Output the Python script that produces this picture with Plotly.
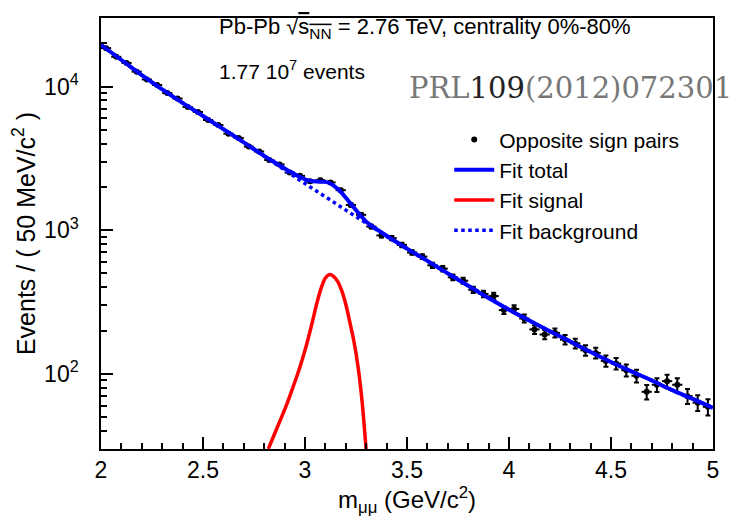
import numpy as np
import plotly.graph_objects as go

# ---------------- data ----------------
bin_centers = [2.025, 2.075, 2.125, 2.175, 2.225, 2.275, 2.325, 2.375, 2.425, 2.475,
               2.525, 2.575, 2.625, 2.675, 2.725, 2.775, 2.825, 2.875, 2.925, 2.975,
               3.025, 3.075, 3.125, 3.175, 3.225, 3.275, 3.325, 3.375, 3.425, 3.475,
               3.525, 3.575, 3.625, 3.675, 3.725, 3.775, 3.825, 3.875, 3.925, 3.975,
               4.025, 4.075, 4.125, 4.175, 4.225, 4.275, 4.325, 4.375, 4.425, 4.475,
               4.525, 4.575, 4.625, 4.675, 4.725, 4.775, 4.825, 4.875, 4.925, 4.975]
pair_counts = [18500, 16100, 14600, 12700, 11200, 10250, 9000, 8250, 7200, 6650,
               5850, 5400, 4700, 4380, 3820, 3530, 3080, 2870, 2520, 2390,
               2190, 2230, 2150, 1900, 1500, 1280, 1060, 920, 880, 790,
               700, 655, 570, 540, 470, 445, 385, 360, 348, 278,
               283, 243, 204, 188, 193, 173, 163, 146, 140, 123,
               118, 106, 97, 75, 84, 89, 84, 70, 63, 59]

bkg_x = [2.0, 2.1, 2.2, 2.3, 2.4, 2.5, 2.6, 2.7, 2.8, 2.9, 3.0, 3.1, 3.2, 3.3, 3.4, 3.5,
         3.6, 3.7, 3.8, 3.9, 4.0, 4.1, 4.2, 4.3, 4.4, 4.5, 4.6, 4.7, 4.8, 4.9, 5.0]
bkg_y = [19500, 15300, 12000, 9550, 7690, 6240, 5050, 4090, 3270, 2630, 2110, 1710,
         1380, 1120, 908, 740, 610, 500, 411, 337, 280, 235, 198, 168, 142, 121, 104,
         90, 77, 67, 58]

total_x = [2.0, 2.1, 2.2, 2.3, 2.4, 2.5, 2.6, 2.7, 2.8, 2.85, 2.88, 2.91, 2.94, 2.97,
           3.00, 3.03, 3.06, 3.08, 3.10, 3.12, 3.14, 3.16, 3.18, 3.20, 3.22, 3.24, 3.26,
           3.28, 3.30, 3.4, 3.5, 3.6, 3.7, 3.8, 3.9, 4.0, 4.1, 4.2, 4.3, 4.4, 4.5, 4.6,
           4.7, 4.8, 4.9, 5.0]
total_y = [19500, 15300, 12000, 9550, 7690, 6240, 5050, 4090, 3290, 2970, 2800, 2640,
           2500, 2370, 2260, 2200, 2180, 2178, 2170, 2130, 2045, 1943, 1819, 1685, 1552,
           1436, 1328, 1231, 1146, 915, 745, 612, 501, 411, 337, 280, 235, 198, 168,
           142, 121, 104, 90, 77, 67, 58]

signal_x = [2.82, 2.85, 2.88, 2.91, 2.94, 2.97, 3.00, 3.03, 3.06, 3.08, 3.10, 3.12, 3.14,
            3.16, 3.18, 3.20, 3.22, 3.24, 3.26, 3.28, 3.30]
signal_y = [30, 38, 48, 61, 80, 106, 146, 212, 318, 398, 465, 492, 478, 440, 380, 305,
            228, 168, 112, 64, 29]

x_ticks = [2, 2.5, 3, 3.5, 4, 4.5, 5]
x_ticklabels = ["2", "2.5", "3", "3.5", "4", "4.5", "5"]
y_ticks = [100, 1000, 10000]
y_ticklabels = ["10<sup>2</sup>", "10<sup>3</sup>", "10<sup>4</sup>"]

# ---------------- figure ----------------
# the page body adds an 8px margin, so the figure is 8px smaller than the window
FONT = "Liberation Sans, Arial, sans-serif"
fig = go.Figure()

fig.add_trace(go.Scatter(
    x=bin_centers, y=pair_counts, mode="markers", name="Opposite sign pairs",
    marker=dict(color="black", size=6),
    error_y=dict(type="data", array=list(np.sqrt(pair_counts)), color="black",
                 thickness=2, width=2.5),
    error_x=dict(type="constant", value=0.025, color="black", thickness=2, width=0),
    legendrank=1,
))
fig.add_trace(go.Scatter(
    x=bkg_x, y=bkg_y, mode="lines", name="Fit background",
    line=dict(color="#0000ff", width=3.5, dash="dot", shape="spline"), legendrank=4,
))
fig.add_trace(go.Scatter(
    x=signal_x, y=signal_y, mode="lines", name="Fit signal",
    line=dict(color="#ff0000", width=3.5, shape="spline"), legendrank=3,
))
fig.add_trace(go.Scatter(
    x=total_x, y=total_y, mode="lines", name="Fit total",
    line=dict(color="#0000ff", width=4, shape="spline"), legendrank=2,
))

fig.update_layout(
    width=736, height=510,
    margin=dict(l=93, r=31, t=10, b=69),
    paper_bgcolor="white", plot_bgcolor="white",
    font=dict(family=FONT, size=24, color="black"),
    showlegend=True,
    legend=dict(x=0.569, y=0.765, xanchor="left", yanchor="top",
                font=dict(size=21, family=FONT), bgcolor="rgba(0,0,0,0)",
                tracegroupgap=0, itemwidth=40),
    xaxis=dict(range=[2, 5], tickvals=x_ticks, ticktext=x_ticklabels, automargin=False,
               ticks="inside", ticklen=12, tickwidth=1.5, tickcolor="black",
               showline=True, linecolor="black", linewidth=1.5, mirror=True,
               showgrid=False, zeroline=False, tickfont=dict(size=23),
               minor=dict(dtick=0.1, ticks="inside", ticklen=6, tickwidth=1.5,
                          tickcolor="black", showgrid=False),
               title=dict(text="m<sub>μμ</sub> (GeV/c<sup>2</sup>)", font=dict(size=24),
                          standoff=8)),
    yaxis=dict(type="log", range=[np.log10(30), np.log10(30000)], automargin=False,
               tickvals=y_ticks, ticktext=y_ticklabels, ticklabelstandoff=16,
               ticks="inside", ticklen=12, tickwidth=1.5, tickcolor="black",
               showline=True, linecolor="black", linewidth=1.5, mirror=True,
               showgrid=False, zeroline=False, tickfont=dict(size=23),
               minor=dict(dtick="D1", ticks="inside", ticklen=6, tickwidth=1.5,
                          tickcolor="black", showgrid=False),
               title=dict(text="Events / ( 50 MeV/c<sup>2</sup> )", font=dict(size=25),
                          standoff=17)),
)

fig.add_annotation(xref="paper", yref="paper", x=0.19, y=0.977, xanchor="left",
                   yanchor="middle", showarrow=False,
                   text="Pb-Pb √<span style='text-decoration:overline'>s<sub>NN</sub></span> = 2.76 TeV, centrality 0%-80%",
                   font=dict(size=22, family=FONT))
fig.add_annotation(xref="paper", yref="paper", x=0.19, y=0.879, xanchor="left",
                   yanchor="middle", showarrow=False,
                   text="1.77 10<sup>7</sup> events", font=dict(size=21, family=FONT))
fig.add_annotation(xref="paper", yref="paper", x=0.500, y=0.838, xanchor="left",
                   yanchor="middle", showarrow=False,
                   text="PRL<span style='color:#222'>109</span>(2012)072301",
                   font=dict(size=29, family="DejaVu Serif, Liberation Serif, serif",
                             color="#777777"))

fig.write_html("out.html")
